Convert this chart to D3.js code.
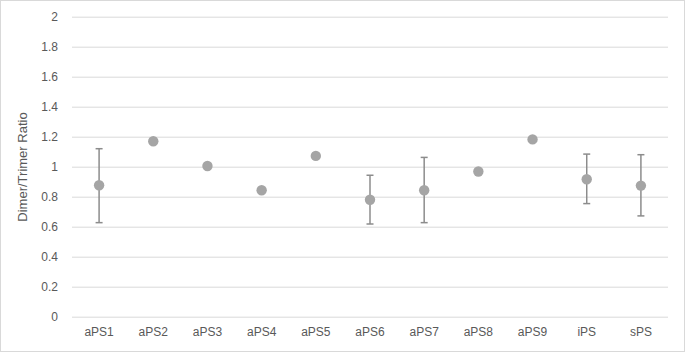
<!DOCTYPE html>
<html><head><meta charset="utf-8">
<script src="https://cdn.jsdelivr.net/npm/d3@7/dist/d3.min.js"></script>
<style>body{margin:0;background:#fff}svg{display:block}</style>
</head><body><svg id="c" width="685" height="352"></svg>
<script>
const categories = ["aPS1","aPS2","aPS3","aPS4","aPS5","aPS6","aPS7","aPS8","aPS9","iPS","sPS"];
const values     = [0.876,1.17,1.005,0.843,1.072,0.78,0.843,0.968,1.182,0.916,0.874];
const errLow     = [0.627,null,null,null,null,0.618,0.627,null,null,0.754,0.672];
const errHigh    = [1.12,null,null,null,null,0.943,1.062,null,null,1.084,1.08];
const yTicks     = [0,0.2,0.4,0.6,0.8,1,1.2,1.4,1.6,1.8,2];
const yTitle = "Dimer/Trimer Ratio";

const svg = d3.select("#c");
const font = "'Liberation Sans', Arial, sans-serif";
svg.append("rect").attr("x",0.5).attr("y",0.5).attr("width",684).attr("height",351)
  .attr("fill","#fff").attr("stroke","#d9d9d9");

const x = d3.scaleBand().domain(categories).range([72,668]);
const y = d3.scaleLinear().domain([0,2]).range([316.7,16.7]);

const yAxis = d3.axisLeft(y).tickValues(yTicks).tickSize(-(668-72)).tickPadding(14).tickFormat(d3.format("~g"));
const gy = svg.append("g").attr("transform","translate(72,0)").call(yAxis);
gy.select(".domain").remove();
gy.selectAll(".tick line").attr("stroke","#d9d9d9").attr("stroke-width",1);
gy.selectAll(".tick text").attr("fill","#595959").style("font-family",font).style("font-size","12px");

const xAxis = d3.axisBottom(x).tickSize(0).tickPadding(11);
const gx = svg.append("g").attr("transform","translate(0,316.7)").call(xAxis);
gx.select(".domain").remove();
gx.selectAll(".tick text").attr("fill","#595959").style("font-family",font).style("font-size","12px");

svg.append("text").attr("transform","translate(26.5,167) rotate(-90)")
  .attr("text-anchor","middle").attr("fill","#595959")
  .style("font-family",font).style("font-size","13px").text(yTitle);

const data = categories.map((c,i)=>({c, v:values[i], lo:errLow[i], hi:errHigh[i]}));
const cx = d => x(d.c)+x.bandwidth()/2;
const eb = data.filter(d=>d.lo!=null);
const col = "#8c8c8c";
const g = svg.append("g");
g.selectAll("line.v").data(eb).join("line").attr("x1",cx).attr("x2",cx)
  .attr("y1",d=>y(d.lo)).attr("y2",d=>y(d.hi)).attr("stroke",col).attr("stroke-width",1.5);
g.selectAll("line.t").data(eb).join("line").attr("x1",d=>cx(d)-3.5).attr("x2",d=>cx(d)+3.5)
  .attr("y1",d=>y(d.hi)).attr("y2",d=>y(d.hi)).attr("stroke",col).attr("stroke-width",1.5);
g.selectAll("line.b").data(eb).join("line").attr("x1",d=>cx(d)-3.5).attr("x2",d=>cx(d)+3.5)
  .attr("y1",d=>y(d.lo)).attr("y2",d=>y(d.lo)).attr("stroke",col).attr("stroke-width",1.5);
g.selectAll("circle").data(data).join("circle").attr("cx",cx).attr("cy",d=>y(d.v))
  .attr("r",5.2).attr("fill","#a5a5a5");
</script></body></html>
